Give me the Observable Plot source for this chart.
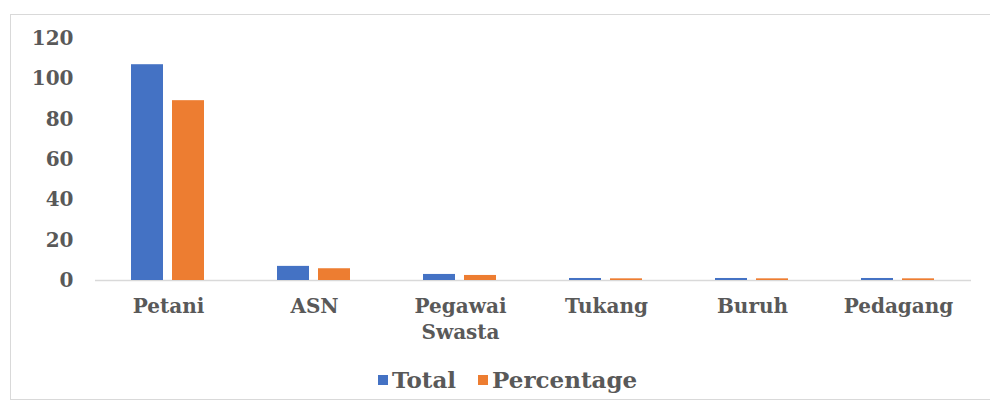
<!DOCTYPE html>
<html>
<head>
<meta charset="utf-8">
<script src="https://cdn.jsdelivr.net/npm/d3@7"></script>
<script src="https://cdn.jsdelivr.net/npm/@observablehq/plot@0.6"></script>
<style>
  html, body { margin: 0; padding: 0; background: #fff; }
  #wrap { position: relative; width: 990px; height: 405px; overflow: hidden; }
  #frame { position: absolute; left: 10px; top: 14px; width: 990px; height: 386px; border: 1px solid #d9d9d9; box-sizing: border-box; }
  #chart { position: absolute; left: 0; top: 0; }
  #legend { position: absolute; left: 378px; top: 366px; display: flex; align-items: center;
    font-family: "DejaVu Serif"; font-weight: bold; font-size: 23px; color: #595959; }
  .sw { display: inline-block; width: 10px; height: 10px; margin-right: 4px; }
  .item { display: flex; align-items: center; margin-right: 22px; }
</style>
</head>
<body>
<div id="wrap">
  <div id="frame"></div>
  <div id="chart"></div>
  <div id="legend"></div>
</div>
<script>
const categories = ["Petani", "ASN", "Pegawai Swasta", "Tukang", "Buruh", "Pedagang"];
const totals = [107, 7, 3, 1, 1, 1];
const percentages = [89.17, 5.83, 2.5, 0.83, 0.83, 0.83];
const series = ["Total", "Percentage"];
const colors = ["#4472C4", "#ED7D31"];
const yTicks = [0, 20, 40, 60, 80, 100, 120];

const data = [];
categories.forEach((c, i) => {
  data.push({category: c, series: "Total", value: totals[i]});
  data.push({category: c, series: "Percentage", value: percentages[i]});
});

const chart = Plot.plot({
  width: 990,
  height: 345,
  marginLeft: 93,
  marginRight: 18,
  marginTop: 38,
  marginBottom: 65,
  style: {fontFamily: "DejaVu Serif", fontWeight: "bold", fontSize: "20px", color: "#595959", background: "transparent"},
  fx: {domain: categories, padding: 0, label: null},
  x: {domain: series, paddingInner: 0.214, paddingOuter: 0.851, axis: null},
  y: {domain: [0, 120]},
  color: {domain: series, range: colors},
  marks: [
    Plot.axisY({ticks: yTicks, tickSize: 0, tickPadding: 22, label: null, fontSize: 20}),
    Plot.ruleY([0], {stroke: "#d9d9d9", strokeWidth: 1.5}),
    Plot.barY(data, {fx: "category", x: "series", y: "value", fill: "series"}),
    Plot.axisFx({anchor: "bottom", tickSize: 0, tickPadding: 14, label: null, fontSize: 20, lineHeight: 1.3,
      tickFormat: d => d.replace(" ", "\n")})
  ]
});
document.getElementById("chart").appendChild(chart);

const legend = document.getElementById("legend");
series.forEach((s, i) => {
  const item = document.createElement("div");
  item.className = "item";
  const sw = document.createElement("span");
  sw.className = "sw";
  sw.style.background = colors[i];
  item.appendChild(sw);
  item.appendChild(document.createTextNode(s));
  legend.appendChild(item);
});
</script>
</body>
</html>
